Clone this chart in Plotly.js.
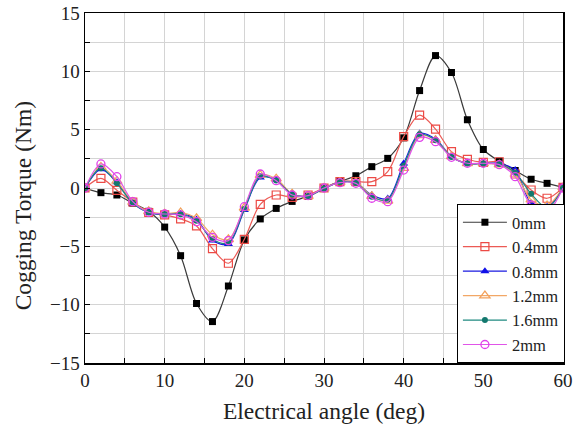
<!DOCTYPE html>
<html>
<head>
<meta charset="utf-8">
<script src="https://cdn.plot.ly/plotly-3.0.1.min.js"></script>
<style>
  html, body { margin: 0; padding: 0; background: #fff; }
  #chart { width: 587px; height: 434px; }
</style>
</head>
<body>
<div id="chart"></div>
<script>
// Electrical angle (deg), sampled every 2 degrees
const angle = [0, 2, 4, 6, 8, 10, 12, 14, 16, 18, 20, 22, 24, 26, 28, 30,
               32, 34, 36, 38, 40, 42, 44, 46, 48, 50, 52, 54, 56, 58, 60];

// Cogging torque (Nm) for each notch depth
const torque0mm  = [0, -0.4, -0.6, -1.3, -2.0, -3.35, -5.8, -9.9, -11.45, -8.4, -4.45, -2.65, -1.75, -1.15, -0.7, 0,
                    0.55, 1.05, 1.83, 2.54, 4.3, 8.35, 11.35, 9.9, 5.85, 3.3, 2.3, 1.5, 0.75, 0.4, 0.05];
const torque04mm = [0, 0.83, -0.2, -1.2, -2.1, -2.3, -2.65, -3.25, -5.2, -6.45, -4.4, -1.4, -0.6, -0.8, -0.6, 0,
                    0.55, 0.55, 0.54, 1.4, 4.4, 6.25, 5.05, 3.11, 2.46, 2.2, 2.25, 1.2, -0.17, -0.88, 0.05];
const torque08mm = [0, 1.6, 0.5, -1.3, -2.1, -2.3, -2.2, -2.7, -4.5, -4.8, -1.88, 0.9, 0.7, -0.5, -0.7, -0.05,
                    0.5, 0.45, -0.6, -0.9, 2.1, 4.68, 4.2, 2.7, 2.1, 2.1, 2.1, 1.54, -1.3, -1.6, 0];
const torque12mm = [0, 1.8, 0.6, -1.2, -2.0, -2.2, -2.1, -2.6, -4.0, -4.4, -1.7, 1.1, 0.8, -0.5, -0.7, 0,
                    0.5, 0.5, -0.7, -1.1, 1.7, 4.5, 4.1, 2.7, 2.1, 2.1, 2.0, 1.2, -1.0, -1.5, 0.05];
const torque16mm = [0, 1.7, 0.4, -1.3, -2.1, -2.25, -2.25, -2.8, -4.4, -4.7, -1.8, 1.0, 0.65, -0.55, -0.7, -0.05,
                    0.5, 0.42, -0.75, -1.0, 1.9, 4.6, 4.1, 2.65, 2.1, 2.1, 2.05, 1.3, -0.5, -1.7, 0];
const torque2mm  = [0, 2.06, 0.97, -1.17, -2.08, -2.23, -2.31, -2.89, -4.23, -4.51, -1.6, 1.2, 0.63, -0.6, -0.65, 0,
                    0.46, 0.4, -0.88, -1.17, 1.54, 4.34, 3.97, 2.63, 2.12, 2.12, 2.0, 0.97, -1.46, -2.03, 0];

const seriesNames = ['0mm', '0.4mm', '0.8mm', '1.2mm', '1.6mm', '2mm'];

const styles = [
  { line: '#3a3a3a', marker: { symbol: 'square', color: '#000000', size: 7, line: { width: 0 } } },
  { line: '#ec5a55', marker: { symbol: 'square-open', color: '#ec4a45', size: 8, line: { width: 1.2 } } },
  { line: '#1a1ae0', marker: { symbol: 'triangle-up', color: '#1010e8', size: 8, line: { width: 0 } } },
  { line: '#f2a766', marker: { symbol: 'triangle-up-open', color: '#f2a05a', size: 9, line: { width: 1.2 } } },
  { line: '#1f8a80', marker: { symbol: 'circle', color: '#13786e', size: 6, line: { width: 0 } } },
  { line: '#e055e8', marker: { symbol: 'circle-open', color: '#e040ea', size: 8, line: { width: 1.3 } } }
];

const values = [torque0mm, torque04mm, torque08mm, torque12mm, torque16mm, torque2mm];

const traces = values.map((y, i) => ({
  type: 'scatter',
  mode: 'lines+markers',
  name: seriesNames[i],
  x: angle,
  y: y,
  line: { color: styles[i].line, width: 1.2, shape: 'spline', smoothing: 0.9 },
  marker: styles[i].marker
}));

const serif = 'Liberation Serif, Times New Roman, serif';

const layout = {
  width: 587,
  height: 434,
  margin: { l: 85, r: 24, t: 13, b: 71 },
  paper_bgcolor: '#ffffff',
  plot_bgcolor: '#ffffff',
  showlegend: true,
  font: { family: serif, size: 19, color: '#222' },
  xaxis: {
    range: [0, 60],
    dtick: 10,
    tick0: 0,
    ticks: 'inside',
    ticklen: 5,
    tickwidth: 1,
    tickcolor: '#000',
    showline: true,
    linecolor: '#000',
    linewidth: 1.5,
    mirror: true,
    showgrid: true,
    gridcolor: '#d4d4d4',
    gridwidth: 1,
    zeroline: false,
    minor: { dtick: 5, ticks: 'inside', ticklen: 5, tickcolor: '#000', showgrid: true, gridcolor: '#d4d4d4', gridwidth: 1 },
    tickfont: { family: serif, size: 19, color: '#222' },
    title: { text: 'Electrical angle (deg)', font: { family: serif, size: 23.5, color: '#222' }, standoff: 12 }
  },
  yaxis: {
    range: [-15, 15],
    dtick: 5,
    tick0: 0,
    ticks: 'inside',
    ticklen: 5,
    tickwidth: 1,
    tickcolor: '#000',
    showline: true,
    linecolor: '#000',
    linewidth: 1.5,
    mirror: true,
    showgrid: true,
    gridcolor: '#d4d4d4',
    gridwidth: 1,
    zeroline: false,
    minor: { dtick: 2.5, ticks: 'inside', ticklen: 5, tickcolor: '#000', showgrid: true, gridcolor: '#d4d4d4', gridwidth: 1 },
    tickfont: { family: serif, size: 19, color: '#222' },
    title: { text: '' }
  },
  annotations: [{
    text: 'Cogging Torque (Nm)',
    textangle: -90,
    xref: 'paper', yref: 'paper',
    x: -0.13, y: 0.45,
    xanchor: 'center', yanchor: 'middle',
    showarrow: false,
    font: { family: serif, size: 23.5, color: '#222' }
  }],
  legend: {
    x: 1.004,
    y: 0,
    xanchor: 'right',
    yanchor: 'bottom',
    bgcolor: '#ffffff',
    bordercolor: '#000',
    borderwidth: 1,
    itemwidth: 44,
    tracegroupgap: 0,
    font: { family: serif, size: 16.5, color: '#222' }
  }
};

Plotly.newPlot('chart', traces, layout, { staticPlot: true, displayModeBar: false });
</script>
</body>
</html>
